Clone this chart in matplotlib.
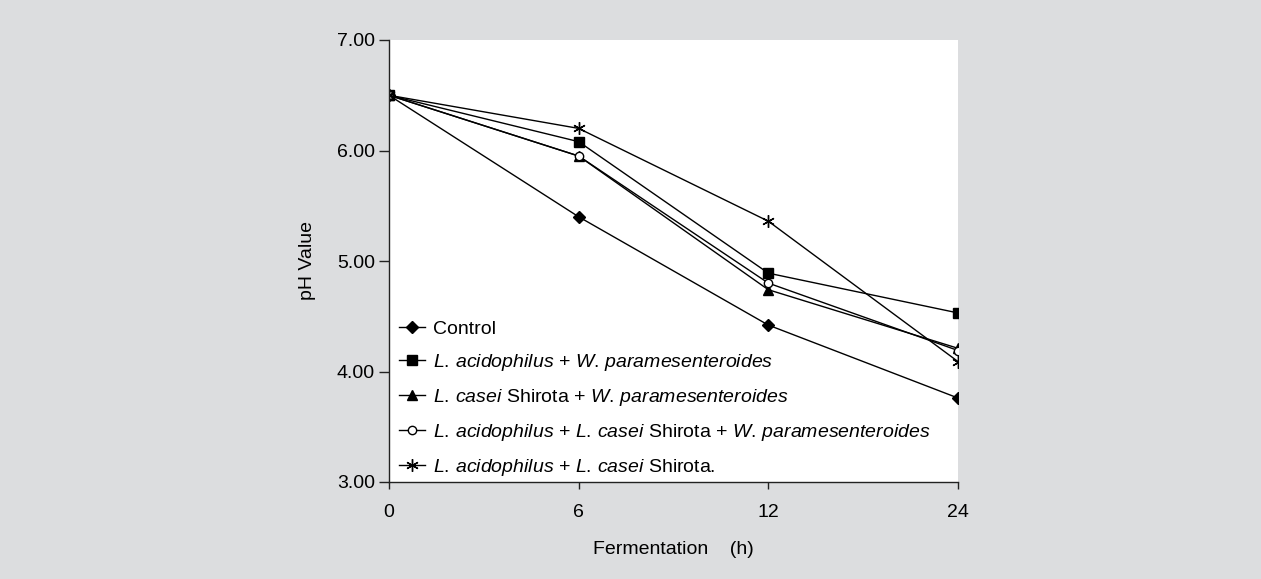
import matplotlib
matplotlib.use("Agg")
import matplotlib.pyplot as plt

plt.rcParams['font.family'] = ['Liberation Sans', 'DejaVu Sans']
plt.rcParams['mathtext.fontset'] = 'custom'
plt.rcParams['mathtext.rm'] = 'Liberation Sans'
plt.rcParams['mathtext.it'] = 'Liberation Sans:italic'

# data
hours = ['0', '6', '12', '24']
control = [6.50, 5.40, 4.42, 3.76]
acid_wpar = [6.50, 6.08, 4.89, 4.53]
casei_wpar = [6.50, 5.95, 4.74, 4.21]
acid_casei_wpar = [6.50, 5.95, 4.80, 4.19]
acid_casei = [6.50, 6.20, 5.36, 4.09]

labels = [
    'Control',
    r'$\mathit{L.\,acidophilus}$ + $\mathit{W.\,paramesenteroides}$',
    r'$\mathit{L.\,casei}$ Shirota + $\mathit{W.\,paramesenteroides}$',
    r'$\mathit{L.\,acidophilus}$ + $\mathit{L.\,casei}$ Shirota + '
    r'$\mathit{W.\,paramesenteroides}$',
    r'$\mathit{L.\,acidophilus}$ + $\mathit{L.\,casei}$ Shirota.',
]

bg = '#dcdddf'
fig = plt.figure(figsize=(12.61, 5.79), dpi=100, facecolor=bg)
ax = fig.add_axes([389/1261, 1-482/579, 569/1261, 442/579])
ax.set_facecolor('white')

xs = range(len(hours))
ax.plot(xs, control, '-', color='black', lw=1.0, marker='D', ms=6.5, mfc='black', label=labels[0])
ax.plot(xs, acid_wpar, '-', color='black', lw=1.0, marker='s', ms=7, mfc='black', label=labels[1])
ax.plot(xs, casei_wpar, '-', color='black', lw=1.0, marker='^', ms=7, mfc='black', label=labels[2])
ax.plot(xs, acid_casei_wpar, '-', color='black', lw=1.0, marker='o', ms=6, mfc='white', mew=1.0, label=labels[3])
ax.plot(xs, acid_casei, '-', color='black', lw=1.0, marker=(6, 2, 0), ms=9, mew=1.0, label=labels[4])

ax.set_xlim(0, 3)
ax.set_ylim(3, 7)
ax.set_xticks(list(xs))
ax.set_xticklabels(hours)
ax.set_yticks([3, 4, 5, 6, 7])
ax.set_yticklabels(['%.2f' % v for v in [3, 4, 5, 6, 7]])
ax.tick_params(axis='both', labelsize=14, direction='out', color='#222222', width=1.0)
ax.tick_params(axis='y', length=7, pad=3)
ax.tick_params(axis='x', length=5, pad=11)

for s in ['top', 'right']:
    ax.spines[s].set_visible(False)
for s in ['left', 'bottom']:
    ax.spines[s].set_color('#222222')
    ax.spines[s].set_linewidth(1.0)

ax.set_xlabel('Fermentation    (h)', fontsize=14, labelpad=14)
ax.set_ylabel('pH Value', fontsize=14, labelpad=15)

ax.legend(loc='lower left', bbox_to_anchor=(0.017, 0.009), frameon=False, fontsize=14,
          handlelength=1.35, handletextpad=0.4, labelspacing=0.72, borderaxespad=0.0,
          borderpad=0.0)

fig.savefig('out.png', dpi=100, facecolor=bg)
